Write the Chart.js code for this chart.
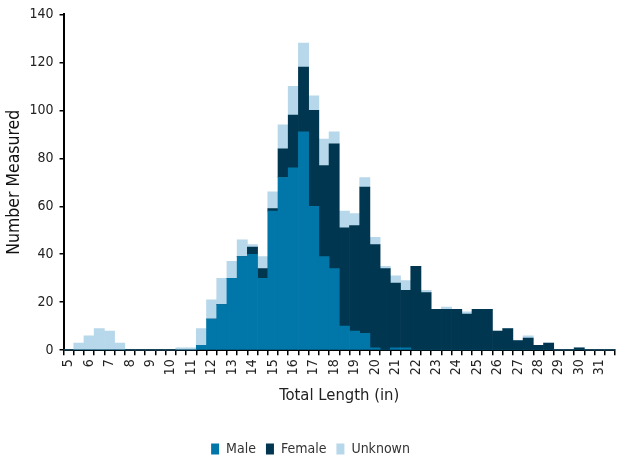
<!DOCTYPE html>
<html>
<head>
<meta charset="utf-8">
<script src="https://cdn.jsdelivr.net/npm/chart.js@4/dist/chart.umd.min.js"></script>
<style>
  html, body { margin: 0; padding: 0; background: #fff; }
  #wrap { width: 623px; height: 456px; }
</style>
</head>
<body>
<div id="wrap"><canvas id="histChart" width="623" height="456"></canvas></div>
<script>
// half-inch length bins
var lengths = [5, 5.5, 6, 6.5, 7, 7.5, 8, 8.5, 9, 9.5, 10, 10.5, 11, 11.5, 12, 12.5,
  13, 13.5, 14, 14.5, 15, 15.5, 16, 16.5, 17, 17.5, 18, 18.5, 19, 19.5, 20, 20.5,
  21, 21.5, 22, 22.5, 23, 23.5, 24, 24.5, 25, 25.5, 26, 26.5, 27, 27.5, 28, 28.5,
  29, 29.5, 30, 30.5, 31, 31.5];

var male = [0, 0, 0, 0, 0, 0, 0, 0, 0, 0, 0, 0, 0, 2, 13, 19,
  30, 39, 40, 30, 58, 72, 76, 91, 60, 39, 34, 10, 8, 7, 1, 0,
  1, 1, 0, 0, 0, 0, 0, 0, 0, 0, 0, 0, 0, 0, 0, 0,
  0, 0, 0, 0, 0, 0];

var female = [0, 0, 0, 0, 0, 0, 0, 0, 0, 0, 0, 0, 0, 0, 0, 0,
  0, 0, 3, 4, 1, 12, 22, 27, 40, 38, 52, 41, 44, 61, 43, 34,
  27, 24, 35, 24, 17, 17, 17, 15, 17, 17, 8, 9, 4, 5, 2, 3,
  0, 0, 1, 0, 0, 0];

var unknown = [0, 3, 6, 9, 8, 3, 0, 0, 0, 0, 0, 1, 1, 7, 8, 11,
  7, 7, 1, 5, 7, 10, 12, 10, 6, 11, 5, 7, 5, 4, 3, 1,
  3, 4, 0, 1, 0, 1, 0, 1, 0, 0, 0, 0, 0, 1, 0, 0,
  0, 0, 0, 0, 0, 0];

var yTicks = [0, 20, 40, 60, 80, 100, 120, 140];

var fontFam = "'Liberation Sans Narrow', 'DejaVu Sans Condensed', Roboto, sans-serif";
Chart.defaults.font.family = fontFam;
Chart.defaults.color = '#222';

var ctx = document.getElementById('histChart').getContext('2d');
var histChart = new Chart(ctx, {
  type: 'bar',
  data: {
    labels: lengths,
    datasets: [
      { label: 'Male', data: male, backgroundColor: '#0077a8', borderWidth: 0 },
      { label: 'Female', data: female, backgroundColor: '#00364f', borderWidth: 0 },
      { label: 'Unknown', data: unknown, backgroundColor: '#b7d7ea', borderWidth: 0 }
    ]
  },
  options: {
    responsive: false,
    animation: false,
    layout: { padding: { left: 6, right: 8, top: 14, bottom: -10 } },
    datasets: { bar: { barPercentage: 1, categoryPercentage: 1 } },
    plugins: {
      legend: {
        position: 'bottom',
        labels: { boxWidth: 8, boxHeight: 11, padding: 10, font: { size: 14 }, color: '#333' }
      },
      tooltip: { enabled: false }
    },
    scales: {
      x: {
        stacked: true,
        offset: true,
        afterFit: function (axis) {
          // no extra room for the rotated end labels
          axis.paddingRight = 0;
        },
        grid: { drawOnChartArea: false, offset: true, color: '#000', tickLength: 5, lineWidth: 1.5 },
        border: { color: '#000', width: 2 },
        ticks: {
          autoSkip: false,
          maxRotation: 90,
          minRotation: 90,
          font: { size: 14 },
          color: '#222',
          padding: 4,
          callback: function (val) {
            var l = this.getLabelForValue(val);
            return Number.isInteger(l) ? String(l) : '';
          }
        },
        title: { display: true, text: 'Total Length (in)', font: { size: 16.5 }, color: '#222', padding: { top: 7, bottom: 26 } }
      },
      y: {
        stacked: true,
        min: 0,
        max: 140,
        afterBuildTicks: function (axis) {
          axis.ticks = yTicks.map(function (v) { return { value: v }; });
        },
        grid: { drawOnChartArea: false, color: '#000', tickLength: 4, lineWidth: 1.5 },
        border: { color: '#000', width: 2 },
        ticks: { font: { size: 14 }, color: '#222', padding: 6 },
        title: { display: true, text: 'Number Measured', font: { size: 17.5, lineHeight: 1 }, color: '#111', padding: { top: 0, bottom: 0 } }
      }
    }
  }
});
</script>
</body>
</html>
